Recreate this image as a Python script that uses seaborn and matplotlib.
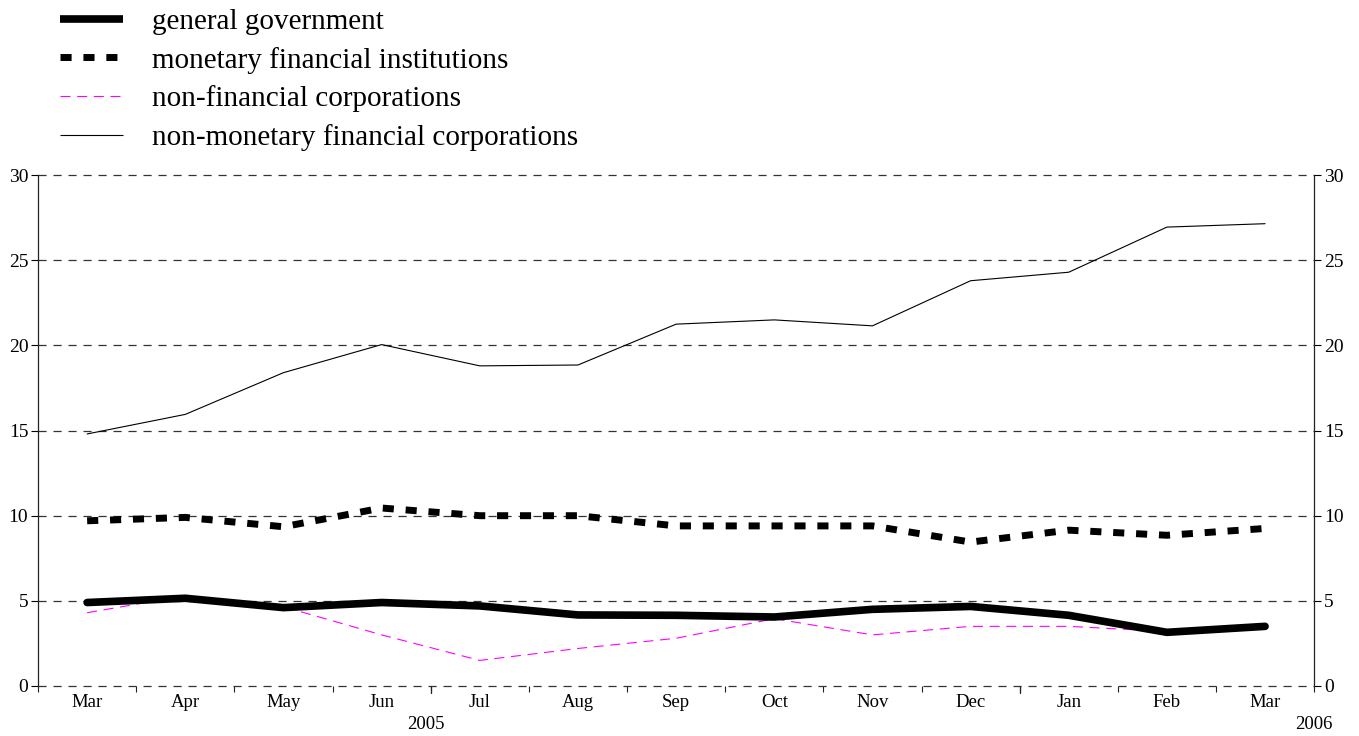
import matplotlib
matplotlib.use("Agg")
import matplotlib.pyplot as plt
import seaborn as sns
import pandas as pd
from matplotlib.lines import Line2D

# ----------------------------------------
# Data
# ----------------------------------------
months = ["Mar", "Apr", "May", "Jun", "Jul", "Aug", "Sep",
          "Oct", "Nov", "Dec", "Jan", "Feb", "Mar"]

general_government = [4.9, 5.15, 4.6, 4.9, 4.7, 4.17, 4.15, 4.05, 4.5, 4.67, 4.15, 3.15, 3.5]
monetary_fin_inst = [9.7, 9.9, 9.35, 10.45, 10.0, 10.0, 9.4, 9.4, 9.4, 8.45, 9.15, 8.85, 9.25]
non_fin_corp = [4.3, 5.3, 4.65, 3.0, 1.5, 2.2, 2.8, 3.95, 3.0, 3.5, 3.5, 3.2, 3.35]
non_mon_fin_corp = [14.8, 15.95, 18.4, 20.05, 18.8, 18.85, 21.25, 21.5, 21.15, 23.8, 24.3, 26.95, 27.15]

series_names = ["general government", "monetary financial institutions",
                "non-financial corporations", "non-monetary financial corporations"]

df = pd.DataFrame({
    "pos": list(range(len(months))) * 4,
    "value": general_government + monetary_fin_inst + non_fin_corp + non_mon_fin_corp,
    "series": sum([[s] * len(months) for s in series_names], []),
})

# ----------------------------------------
# Styling
# ----------------------------------------
sns.set_style("white", rc={"text.color": "black", "xtick.color": "black",
                           "ytick.color": "black", "axes.labelcolor": "black"})
plt.rcParams["font.family"] = ["Liberation Serif", "DejaVu Serif"]

styles = {
    "general government": dict(color="black", lw=5.5, ls="-"),
    "monetary financial institutions": dict(color="black", lw=5.0, ls=(0, (1.6, 1.7))),
    "non-financial corporations": dict(color="#ff00ff", lw=0.8, ls=(0, (9, 6))),
    "non-monetary financial corporations": dict(color="black", lw=0.8, ls="-"),
}

fig = plt.figure(figsize=(13.59, 7.36), dpi=100)
ax = fig.add_axes([0.028, 0.068, 0.939, 0.694])

# dashed gridlines (incl. the zero line) under the series
for yv in range(0, 31, 5):
    ax.axhline(yv, color="#333333", lw=0.9, ls=(0, (6.5, 5.5)), zorder=1, clip_on=False)

# thin lines first, thick ones on top
for name in ["non-monetary financial corporations", "non-financial corporations",
             "monetary financial institutions", "general government"]:
    st = styles[name]
    sns.lineplot(data=df[df["series"] == name], x="pos", y="value", ax=ax,
                 color=st["color"], linewidth=st["lw"], linestyle=st["ls"],
                 zorder=3, legend=False)

ax.set_xlim(-0.5, 12.5)
ax.set_ylim(0, 30)
ax.set_xlabel("")
ax.set_ylabel("")

ax.spines["top"].set_visible(False)
ax.spines["bottom"].set_visible(False)
for s in ["left", "right"]:
    ax.spines[s].set_linewidth(0.9)
    ax.spines[s].set_color("#222222")

# y ticks on both sides
ax.set_yticks(range(0, 31, 5))
ax.tick_params(axis="y", which="both", left=True, right=True, labelleft=True,
               labelright=True, direction="out", length=5, width=0.8,
               labelsize=14, pad=2)

# x: month labels centred, tick marks at month boundaries
ax.set_xticks(range(len(months)))
ax.set_xticklabels(months)
ax.set_xticks([i + 0.5 for i in range(-1, 13)], minor=True)
ax.tick_params(axis="x", which="major", bottom=False, length=0, labelsize=13.5, pad=6)
ax.tick_params(axis="x", which="minor", bottom=True, direction="out", length=4.5,
               width=0.8, color="#222222")
for xb in [3.5, 9.5]:
    ax.plot([xb, xb], [0, -0.42], color="#222222", lw=0.9, clip_on=False, zorder=4)

ax.text(3.45, -1.75, "2005", ha="center", va="top", fontsize=13.5)
ax.text(12.5, -1.75, "2006", ha="center", va="top", fontsize=13.5)

# legend outside, top-left
handles = [Line2D([0], [0], color=styles[n]["color"], lw=styles[n]["lw"],
                  linestyle=styles[n]["ls"], solid_capstyle="butt",
                  dash_capstyle="butt") for n in series_names]
fig.legend(handles, series_names, loc="upper left", bbox_to_anchor=(0.025, 1.024),
           frameon=False, fontsize=21, handlelength=2.15, handletextpad=1.0,
           labelspacing=0.4)

fig.savefig("out.png", dpi=100)
plt.close()
